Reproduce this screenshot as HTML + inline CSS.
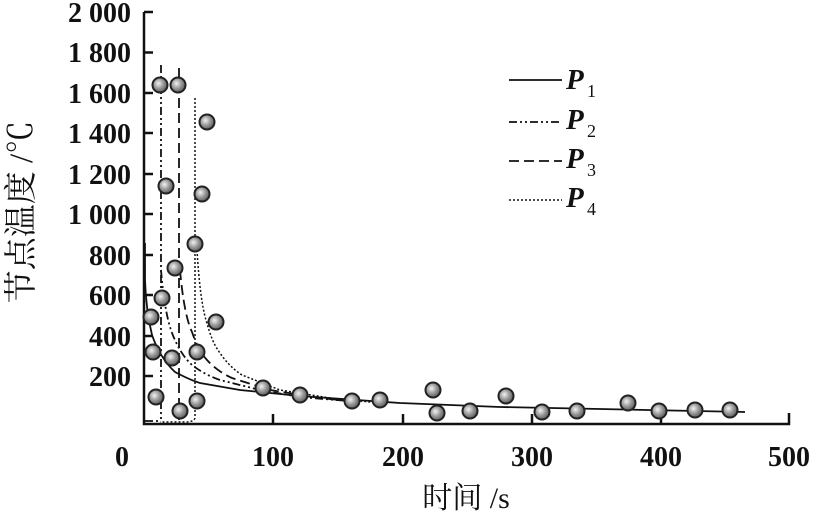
<!DOCTYPE html>
<html><head><meta charset="utf-8"><style>
html,body{margin:0;padding:0;background:#fff;}
svg{display:block;}
text{font-family:"Liberation Serif","Noto Serif CJK SC",serif;fill:#111;}
</style></head><body>
<svg width="820" height="520" viewBox="0 0 820 520" xmlns="http://www.w3.org/2000/svg">
<defs>
<radialGradient id="g" cx="0.4" cy="0.4" r="0.65">
<stop offset="0" stop-color="#f2f2f2"/><stop offset="0.5" stop-color="#9a9a9a"/><stop offset="1" stop-color="#555"/>
</radialGradient>
</defs>
<g stroke="#111" stroke-width="2.5" fill="none">
<path d="M144,12 V424 H789 V413"/>
<path d="M144,12 H153 M144,52.5 H153 M144,93 H153 M144,133 H153 M144,174 H153 M144,214 H153 M144,255 H153 M144,295 H153 M144,336 H153 M144,376 H153"/>
<path d="M273,424 V414 M403,424 V414 M532,424 V414 M661,424 V414"/>
</g>
<g font-size="28" font-weight="bold" text-anchor="end">
<text x="131" y="22">2 000</text><text x="131" y="62">1 800</text><text x="131" y="103">1 600</text>
<text x="131" y="143">1 400</text><text x="131" y="184">1 200</text><text x="131" y="224">1 000</text>
<text x="131" y="265">800</text><text x="131" y="305">600</text><text x="131" y="346">400</text><text x="131" y="386">200</text>
</g>
<g font-size="28" font-weight="bold" text-anchor="middle">
<text x="122" y="466">0</text><text x="273" y="466">100</text><text x="403" y="466">200</text>
<text x="532" y="466">300</text><text x="661" y="466">400</text><text x="789" y="466">500</text>
</g>
<text x="466" y="508" font-size="30" text-anchor="middle">时间 /s</text>
<text font-size="33" text-anchor="middle" transform="translate(32,212) rotate(-90)">节点温度 /℃</text>
<g fill="none" stroke="#111">
<path stroke-width="1.8" d="M145,243 V280 Q146,310 152,335 Q160,358 175,372 Q190,380 200,383 L240,390 L300,396 L400,403 L500,407 L600,409 L745,412"/>
<path stroke-width="1.8" stroke-dasharray="8,3,2,3,2,3" d="M161,65 V420 M161,270 Q165,320 175,340 Q182,356 192,365 Q205,375 220,380 L260,390 L300,397 L360,402 M145,421 H160"/>
<path stroke-width="1.8" stroke-dasharray="10,5" d="M179,68 V420 M180,270 Q184,315 192,332 Q198,350 207,360 Q218,372 232,378 L270,390 L320,398 L360,402"/>
<path stroke-width="1.5" stroke-dasharray="2,2" d="M195,98 V418 Q194,422 185,422 H160 M197,250 Q200,300 206,320 Q212,342 218,350 Q228,366 242,375 L280,390 L330,398 L380,403"/>
</g>
<g stroke="#222" stroke-width="2" fill="url(#g)">
<circle cx="151" cy="317" r="7.5"/><circle cx="153" cy="352" r="7.5"/><circle cx="156" cy="397" r="7.5"/>
<circle cx="160" cy="85" r="7.5"/><circle cx="162" cy="298" r="7.5"/><circle cx="166" cy="186" r="7.5"/>
<circle cx="175" cy="268" r="7.5"/><circle cx="172" cy="358" r="7.5"/><circle cx="178" cy="85" r="7.5"/>
<circle cx="180" cy="411" r="7.5"/><circle cx="195" cy="244" r="7.5"/><circle cx="197" cy="352" r="7.5"/>
<circle cx="197" cy="401" r="7.5"/><circle cx="202" cy="194" r="7.5"/><circle cx="207" cy="122" r="7.5"/>
<circle cx="216" cy="322" r="7.5"/><circle cx="263" cy="388" r="7.5"/><circle cx="300" cy="395" r="7.5"/>
<circle cx="352" cy="401" r="7.5"/><circle cx="380" cy="400" r="7.5"/><circle cx="433" cy="390" r="7.5"/>
<circle cx="437" cy="413" r="7.5"/><circle cx="470" cy="411" r="7.5"/><circle cx="506" cy="396" r="7.5"/>
<circle cx="542" cy="412" r="7.5"/><circle cx="577" cy="411" r="7.5"/><circle cx="628" cy="403" r="7.5"/>
<circle cx="659" cy="411" r="7.5"/><circle cx="695" cy="410" r="7.5"/><circle cx="730" cy="410" r="7.5"/>
</g>
<g stroke="#111" stroke-width="1.8">
<path d="M509,80 H562"/>
<path d="M509,122 H562" stroke-dasharray="8,3,2,3,2,3"/>
<path d="M509,161 H562" stroke-dasharray="10,5"/>
<path d="M509,200 H562" stroke-dasharray="2,2" stroke-width="1.5"/>
</g>
<g font-size="29" font-weight="bold" font-style="italic">
<text x="566" y="89">P</text><text x="566" y="129">P</text><text x="566" y="168">P</text><text x="566" y="207">P</text>
</g>
<g font-size="18">
<text x="587" y="97">1</text><text x="587" y="137">2</text><text x="587" y="176">3</text><text x="587" y="215">4</text>
</g>
</svg>
</body></html>
